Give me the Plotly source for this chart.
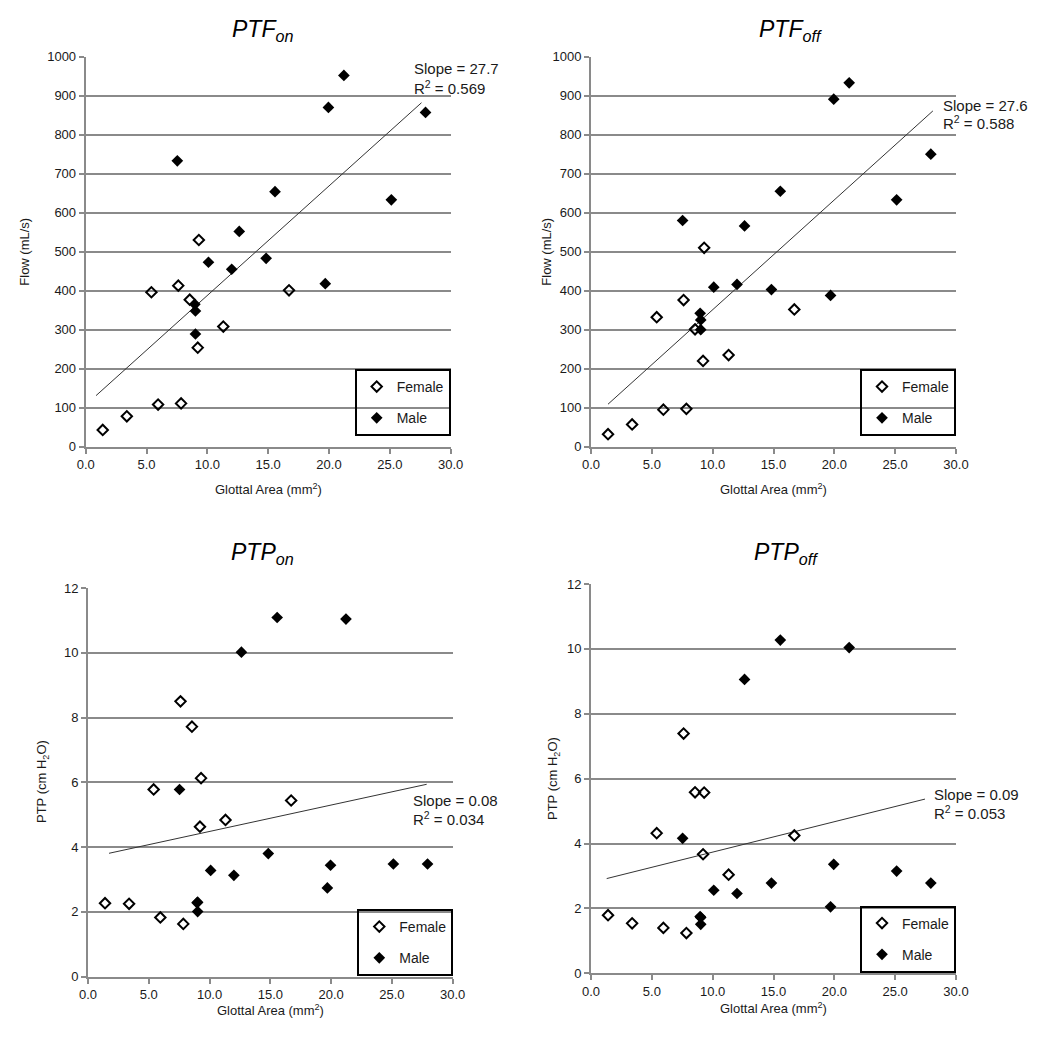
import plotly.graph_objects as go

W, H = 1050, 1047

# ---------------- data ----------------
female_area = [1.40, 3.38, 5.95, 7.84, 5.40, 7.61, 8.55, 9.30, 9.21, 11.31, 16.71]
male_area = [7.53, 8.97, 9.02, 9.02, 10.09, 12.00, 12.62, 14.83, 15.56, 19.69, 19.95, 21.22, 25.12, 27.93]

female_ptf_on = [43, 78, 108, 111, 396, 413, 377, 530, 254, 308, 401]
male_ptf_on = [733, 365, 348, 289, 473, 455, 552, 483, 654, 418, 870, 952, 633, 857]

female_ptf_off = [32, 57, 95, 97, 332, 376, 301, 510, 220, 235, 352]
male_ptf_off = [580, 342, 325, 300, 409, 416, 566, 403, 655, 388, 891, 933, 633, 750]

female_ptp_on = [2.27, 2.25, 1.83, 1.63, 5.78, 8.50, 7.72, 6.13, 4.63, 4.84, 5.44]
male_ptp_on = [5.78, 2.28, 2.01, 2.30, 3.28, 3.13, 10.02, 3.80, 11.09, 2.74, 3.44, 11.04, 3.48, 3.48]

female_ptp_off = [1.79, 1.54, 1.40, 1.24, 4.32, 7.39, 5.58, 5.57, 3.67, 3.04, 4.25]
male_ptp_off = [4.16, 1.75, 1.51, 1.72, 2.56, 2.46, 9.06, 2.78, 10.27, 2.05, 3.36, 10.04, 3.15, 2.78]

trend_x_ptf_on = [0.85, 27.6]
trend_y_ptf_on = [131, 882]
trend_x_ptf_off = [1.40, 28.1]
trend_y_ptf_off = [109, 861]
trend_x_ptp_on = [1.73, 27.86]
trend_y_ptp_on = [3.81, 5.94]
trend_x_ptp_off = [1.29, 27.45]
trend_y_ptp_off = [2.92, 5.37]

titles = ["<i>PTF<sub>on</sub></i>", "<i>PTF<sub>off</sub></i>",
          "<i>PTP<sub>on</sub></i>", "<i>PTP<sub>off</sub></i>"]
slope_labels = ["Slope = 27.7", "Slope = 27.6", "Slope = 0.08", "Slope = 0.09"]
r2_labels = ["R<sup>2</sup> = 0.569", "R<sup>2</sup> = 0.588",
             "R<sup>2</sup> = 0.034", "R<sup>2</sup> = 0.053"]
y_titles = ["Flow (mL/s)", "Flow (mL/s)", "PTP (cm H<sub>2</sub>O)", "PTP (cm H<sub>2</sub>O)"]
x_title = "Glottal Area (mm<sup>2</sup>)"
series_names = ["Female", "Male"]

female_sets = [female_ptf_on, female_ptf_off, female_ptp_on, female_ptp_off]
male_sets = [male_ptf_on, male_ptf_off, male_ptp_on, male_ptp_off]
trend_x_sets = [trend_x_ptf_on, trend_x_ptf_off, trend_x_ptp_on, trend_x_ptp_off]
trend_y_sets = [trend_y_ptf_on, trend_y_ptf_off, trend_y_ptp_on, trend_y_ptp_off]
y_ranges = [[0, 1000], [0, 1000], [0, 12], [0, 12]]
y_dticks = [100, 100, 2, 2]

# ---------------- layout geometry (pixels) ----------------
plot_px = [  # x0, x1, ytop, ybottom
    (85.7, 450.7, 56.7, 446.7),
    (591.0, 956.0, 56.7, 446.7),
    (88.0, 452.7, 588.0, 976.7),
    (591.0, 956.0, 584.0, 973.3),
]
legend_px = [(450.7, 436.0), (956.0, 436.0), (453.3, 976.0), (956.0, 972.5)]
title_px = [(262, 30), (790, 30), (262, 553), (786, 553)]
slope_px = [(411.7, 69), (941, 105), (410.7, 800), (931.7, 794)]
ytitle_px = [(25, 251.7), (547, 251.7), (42, 782), (553, 779)]
xtitle_px = [(268, 489), (773.5, 489), (270, 1010), (773.5, 1008)]


def px(x):
    return x / W


def py(y):
    return 1 - y / H


GRID = "#8a8a8a"
FONT = "Liberation Sans, Arial, sans-serif"

fig = go.Figure()
layout = dict(
    width=W, height=H, autosize=False,
    margin=dict(l=0, r=0, t=0, b=0, pad=0, autoexpand=False),
    paper_bgcolor="white", plot_bgcolor="white",
    font=dict(family=FONT, size=13, color="#1a1a1a"),
    showlegend=True,
)
annotations = []

for i in range(4):
    n = "" if i == 0 else str(i + 1)
    xa, ya = "x" + n, "y" + n
    leg = "legend" + n
    fig.add_trace(go.Scatter(
        x=trend_x_sets[i], y=trend_y_sets[i], mode="lines",
        line=dict(color="#333333", width=1), showlegend=False,
        xaxis=xa, yaxis=ya, hoverinfo="skip"))
    fig.add_trace(go.Scatter(
        x=female_area, y=female_sets[i], mode="markers", name=series_names[0],
        marker=dict(symbol="diamond-open", size=8, color="black", line=dict(width=2, color="black")),
        xaxis=xa, yaxis=ya, legend=leg, legendgroup="f" + n))
    fig.add_trace(go.Scatter(
        x=male_area, y=male_sets[i], mode="markers", name=series_names[1],
        marker=dict(symbol="diamond", size=9, color="black"),
        xaxis=xa, yaxis=ya, legend=leg, legendgroup="m" + n))

    x0, x1, yt, yb = plot_px[i]
    layout["xaxis" + n] = dict(
        domain=[px(x0), px(x1)], anchor=ya, range=[0, 30], dtick=5, tick0=0,
        tickformat=".1f", showgrid=False, zeroline=False, automargin=False,
        showline=True, linecolor=GRID, linewidth=2,
        ticks="outside", ticklen=5, tickwidth=2, tickcolor=GRID,
        tickfont=dict(size=13, color="#1a1a1a", family=FONT))
    layout["yaxis" + n] = dict(
        domain=[py(yb), py(yt)], anchor=xa, range=y_ranges[i], dtick=y_dticks[i], tick0=0,
        showgrid=True, gridcolor=GRID, gridwidth=2, zeroline=False, automargin=False,
        showline=True, linecolor=GRID, linewidth=2,
        ticks="outside", ticklen=5, tickwidth=2, tickcolor=GRID,
        tickfont=dict(size=13, color="#1a1a1a", family=FONT))
    lx, ly = legend_px[i]
    layout[leg] = dict(
        x=px(lx), y=py(ly), xanchor="right", yanchor="bottom",
        bgcolor="rgba(0,0,0,0)", bordercolor="black", borderwidth=2,
        font=dict(size=14, color="#1a1a1a", family=FONT),
        tracegroupgap=10, itemwidth=30)

    tx, ty = title_px[i]
    annotations.append(dict(text=titles[i], x=px(tx), y=py(ty), xref="paper", yref="paper",
                            showarrow=False, xanchor="center", yanchor="middle",
                            font=dict(size=23, color="black", family=FONT)))
    sx, sy = slope_px[i]
    annotations.append(dict(text=slope_labels[i], x=px(sx), y=py(sy), xref="paper", yref="paper",
                            showarrow=False, xanchor="left", yanchor="middle",
                            font=dict(size=15, color="#1a1a1a", family=FONT)))
    annotations.append(dict(text=r2_labels[i], x=px(sx), y=py(sy + 18), xref="paper", yref="paper",
                            showarrow=False, xanchor="left", yanchor="middle",
                            font=dict(size=15, color="#1a1a1a", family=FONT)))
    yx, yy = ytitle_px[i]
    annotations.append(dict(text=y_titles[i], x=px(yx), y=py(yy), xref="paper", yref="paper",
                            showarrow=False, xanchor="center", yanchor="middle", textangle=-90,
                            font=dict(size=13, color="#1a1a1a", family=FONT)))
    xx, xy = xtitle_px[i]
    annotations.append(dict(text=x_title, x=px(xx), y=py(xy), xref="paper", yref="paper",
                            showarrow=False, xanchor="center", yanchor="middle",
                            font=dict(size=13, color="#1a1a1a", family=FONT)))

layout["annotations"] = annotations
fig.update_layout(**layout)
fig.write_html("out.html",
               config={"displayModeBar": False, "responsive": False},
               post_script="document.body.style.margin='0';"
                           "document.documentElement.style.overflow='hidden';"
                           "document.body.style.overflow='hidden';")
